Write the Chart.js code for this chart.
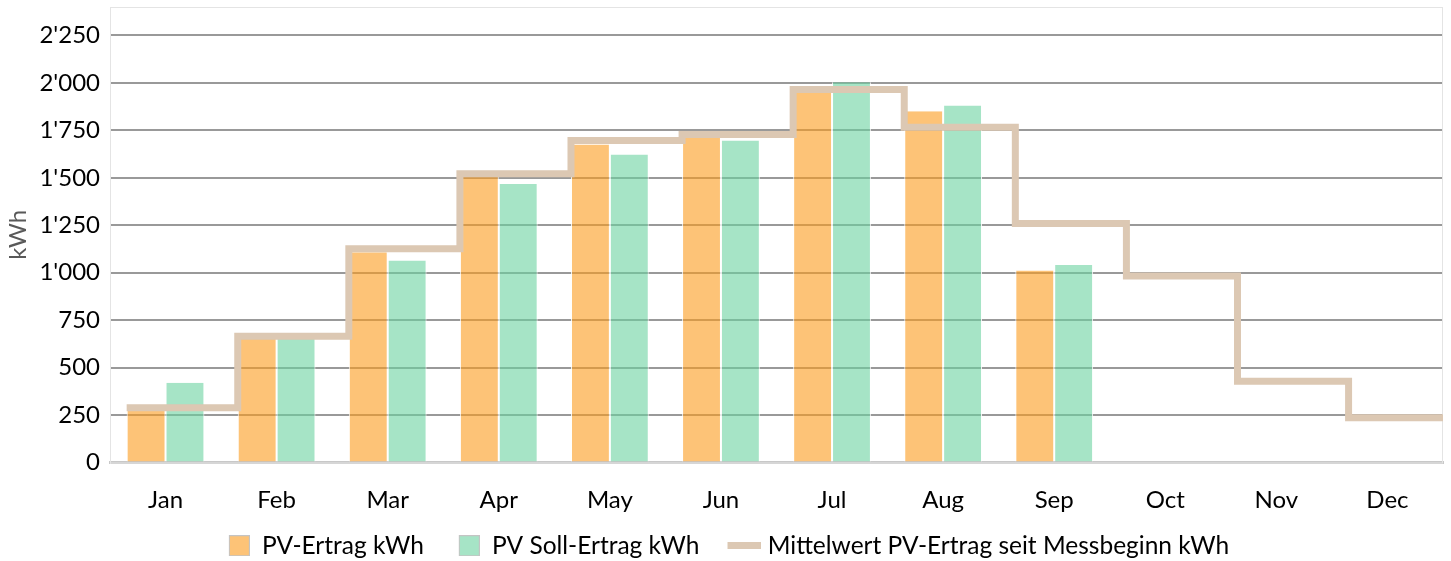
<!DOCTYPE html>
<html>
<head>
<meta charset="utf-8">
<script src="https://cdn.jsdelivr.net/npm/chart.js@4.4.1/dist/chart.umd.min.js"></script>
<style>
  html, body { margin:0; padding:0; background:#fff; }
  #wrap { width:1451px; height:561px; }
</style>
</head>
<body>
<div id="wrap"><canvas id="chart"></canvas></div>
<script>
const months = ['Jan','Feb','Mar','Apr','May','Jun','Jul','Aug','Sep','Oct','Nov','Dec'];
const pvErtrag = [275, 655, 1108, 1509, 1676, 1716, 1953, 1851, 1012, null, null, null];
const pvSoll = [420, 652, 1064, 1468, 1623, 1697, 2004, 1881, 1040, null, null, null];
const mittelwert = [288, 665, 1126, 1521, 1697, 1728, 1965, 1767, 1259, 982, 428, 236];
const yMax = 2400;
const yStep = 250;

const FONT = 'Lato, "Open Sans", sans-serif';
const catPct = 0.7;
const legendPad = 20;

// step line on the category axis: each month's level starts at the left edge of its first bar
const stepPoints = mittelwert.map((v, i) => ({x: i - catPct / 2, y: v}));
stepPoints.push({x: months.length - 0.5, y: mittelwert[mittelwert.length - 1]});

const fmtCH = v => v >= 1000 ? Math.floor(v / 1000) + "'" + String(v % 1000).padStart(3, '0') : String(v);

// legend marker images: a filled block at (x0, y0) of size bw x bh inside a w x h canvas
function swatch(w, h, x0, y0, bw, bh, fill, stroke){
  const c = document.createElement('canvas');
  c.width = w; c.height = h;
  const g = c.getContext('2d');
  g.fillStyle = fill; g.fillRect(x0, y0, bw, bh);
  if (stroke){ g.strokeStyle = stroke; g.lineWidth = 1; g.strokeRect(x0 + 0.5, y0 + 0.5, bw - 1, bh - 1); }
  return c;
}

const plotBorder = {
  id: 'plotBorder',
  beforeDatasetsDraw(chart){
    const {ctx, chartArea:a} = chart;
    ctx.save();
    ctx.strokeStyle = '#e4e4e4';
    ctx.lineWidth = 1;
    ctx.strokeRect(a.left + 0.5, a.top + 0.5, a.right - a.left - 1, a.bottom - a.top);
    ctx.restore();
  }
};

new Chart(document.getElementById('chart'), {
  type: 'bar',
  data: {
    labels: months,
    datasets: [
      {
        type: 'line', label: 'Mittelwert PV-Ertrag seit Messbeginn kWh',
        data: stepPoints, parsing: false, stepped: true,
        borderColor: '#dcc8b3', borderWidth: 7, pointRadius: 0, fill: false,
        borderJoinStyle: 'miter', borderCapStyle: 'butt',
        pointStyle: swatch(48, 7, 14, 0, 35, 7, '#dcc8b3')
      },
      {
        label: 'PV-Ertrag kWh', data: pvErtrag,
        backgroundColor: 'rgba(252,155,28,0.6)',
        borderColor: 'rgba(255,255,255,0.85)', borderWidth: {left:1, right:1, top:0, bottom:0},
        pointStyle: swatch(36, 21, 15, 0, 21, 21, '#fdc377', '#c4c4c4')
      },
      {
        label: 'PV Soll-Ertrag kWh', data: pvSoll,
        backgroundColor: 'rgba(107,210,160,0.6)',
        borderColor: 'rgba(255,255,255,0.85)', borderWidth: {left:1, right:1, top:0, bottom:0},
        pointStyle: swatch(36, 21, 15, 0, 21, 21, '#a6e4c6', '#c4c4c4')
      }
    ]
  },
  options: {
    responsive: true,
    maintainAspectRatio: false,
    animation: false,
    datasets: { bar: { categoryPercentage: catPct, barPercentage: 1 } },
    layout: { padding: {left: 0, right: 8, top: 7, bottom: -7} },
    plugins: {
      tooltip: { enabled: false },
      legend: {
        position: 'bottom',
        labels: {
          usePointStyle: true,
          pointStyleWidth: 36,
          boxHeight: 21,
          padding: legendPad,
          color: '#000',
          font: { family: FONT, size: 24.5 },
          sort: (a, b) => (a.datasetIndex + 2) % 3 - (b.datasetIndex + 2) % 3
        }
      }
    },
    scales: {
      x: {
        offset: true,
        grid: { display: false },
        border: { color: '#c8c8c8', width: 3 },
        ticks: { color: '#000', font: { family: FONT, size: 24 }, padding: 15 },
        afterFit: axis => { axis.height = 51; }
      },
      y: {
        min: 0, max: yMax,
        grid: { color: '#999999', lineWidth: 2, drawTicks: false },
        border: { color: '#e0e0e0', width: 1 },
        afterBuildTicks: axis => { axis.ticks = axis.ticks.filter(t => t.value % yStep === 0); },
        afterFit: axis => { axis.width = 110; axis.paddingTop = 0; axis.paddingBottom = 0; },
        ticks: {
          stepSize: yStep, color: '#000', padding: 10,
          font: { family: FONT, size: 24 },
          callback: v => fmtCH(v)
        },
        title: { display: true, text: 'kWh', color: '#595959', font: { family: FONT, size: 24 }, padding: {top: 4, bottom: 0} }
      }
    }
  },
  plugins: [plotBorder]
});
</script>
</body>
</html>
